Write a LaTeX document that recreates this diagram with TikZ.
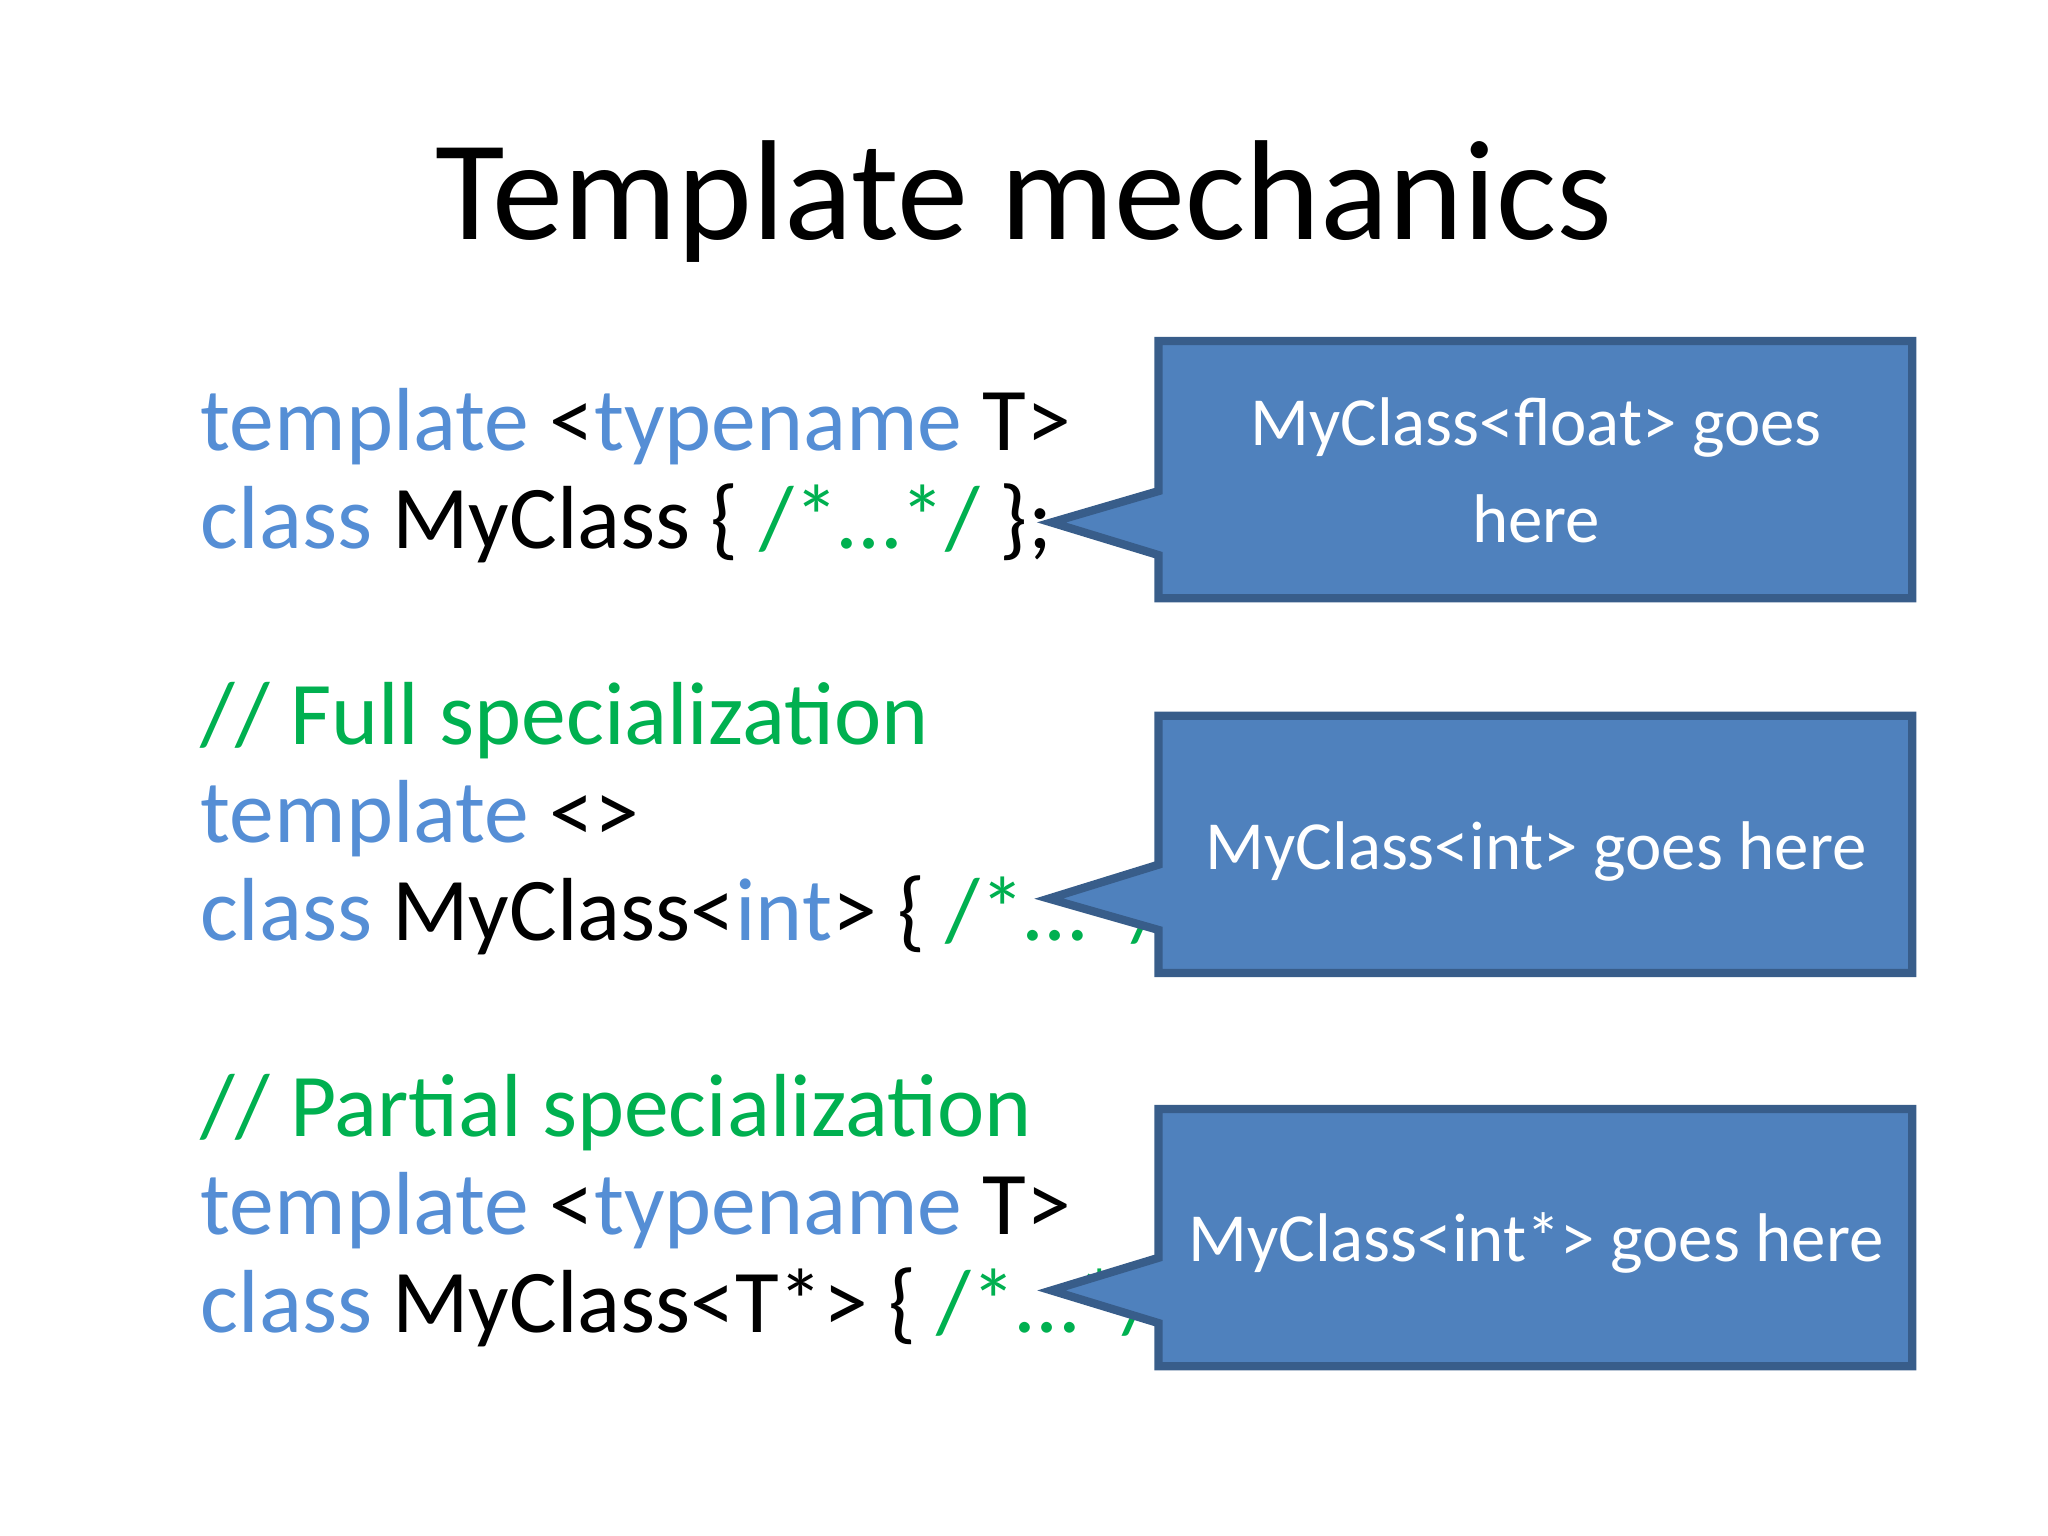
\documentclass[tikz,border=0pt]{standalone}
\usepackage{fontspec}
\setmainfont{Carlito}
\definecolor{kw}{HTML}{558ED5}
\definecolor{cm}{HTML}{00B050}
\definecolor{cfill}{HTML}{4F81BD}
\definecolor{cline}{HTML}{385D8A}
\begin{document}
\begin{tikzpicture}[x=0.01cm,y=-0.01cm,
  code/.style={anchor=base west,inner sep=0pt,font=\fontsize{19.5}{22}\selectfont},
  callout/.style={fill=cfill,draw=cline,line width=1.8pt,line join=miter},
  ctext/.style={text=white,align=center,font=\fontsize{15}{21}\selectfont}]
\useasboundingbox (0,0) rectangle (1568,1176);
\node[anchor=base,inner sep=0pt,font=\fontsize{31}{36}\selectfont] (title) at (784,183) {Template mechanics};
\node[code] (l1) at (153,345) {\textcolor{kw}{template} <\textcolor{kw}{typename} T>};
\node[code] (l2) at (153,420) {\textcolor{kw}{class} MyClass \{ \textcolor{cm}{/*…*/} \};};
\node[code] (l3) at (153,570) {\textcolor{cm}{// Full specialization}};
\node[code] (l4) at (153,645) {\textcolor{kw}{template} <>};
\node[code] (l5) at (153,720) {\textcolor{kw}{class} MyClass<\textcolor{kw}{int}> \{ \textcolor{cm}{/*…*/} \};};
\node[code] (l6) at (153,870) {\textcolor{cm}{// Partial specialization}};
\node[code] (l7) at (153,945) {\textcolor{kw}{template} <\textcolor{kw}{typename} T>};
\node[code] (l8) at (153,1020) {\textcolor{kw}{class} MyClass<T*> \{ \textcolor{cm}{/*…*/} \};};
\draw[callout] (887,261) -- (1464,261) -- (1464,458) -- (887,458) -- (887,425) -- (805,400) -- (887,376) -- cycle;
\node[ctext] (c1) at (1176,360) {MyClass<float> goes\\here};
\draw[callout] (887,548) -- (1464,548) -- (1464,745) -- (887,745) -- (887,712) -- (803,688) -- (887,662) -- cycle;
\node[ctext] (c2) at (1176,652) {MyClass<int> goes here};
\draw[callout] (887,849) -- (1464,849) -- (1464,1046) -- (887,1046) -- (887,1013) -- (805,988) -- (887,963) -- cycle;
\node[ctext] (c3) at (1176,952) {MyClass<int*> goes here};
\end{tikzpicture}
\end{document}
